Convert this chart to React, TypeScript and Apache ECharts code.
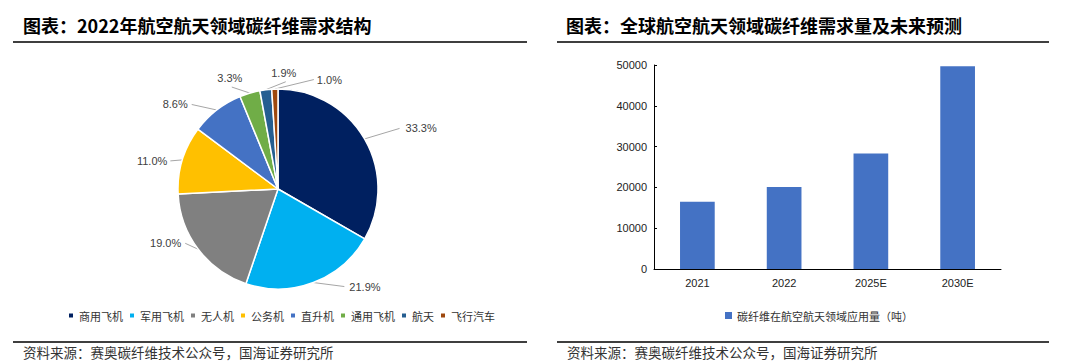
import React, { useEffect, useRef } from "react";
import * as echarts from "echarts";

const pieTitle = "图表：2022年航空航天领域碳纤维需求结构";
const barTitle = "图表：全球航空航天领域碳纤维需求量及未来预测";
const sourceText = "资料来源：赛奥碳纤维技术公众号，国海证券研究所";

const pieCategories = ["商用飞机", "军用飞机", "无人机", "公务机", "直升机", "通用飞机", "航天", "飞行汽车"];
const pieValues = [33.3, 21.9, 19.0, 11.0, 8.6, 3.3, 1.9, 1.0];
const pieColors = ["#002060", "#00B0F0", "#808080", "#FFC000", "#4472C4", "#70AD47", "#255E91", "#9E480E"];

const barCategories = ["2021", "2022", "2025E", "2030E"];
const barValues = [16500, 20100, 28300, 49700];
const barSeriesName = "碳纤维在航空航天领域应用量（吨）";

// label nudges relative to each slice's outer edge point (style only)
const labelNudges = [
  { lx: 35, ly: -10.5, tx: 41, ty: -11, align: "left" },
  { lx: 31, ly: 4, tx: 36, ty: 4, align: "left" },
  { lx: -13, ly: -6, tx: -17, ty: -6, align: "right" },
  { lx: -12, ly: 1, tx: -15, ty: 1, align: "right" },
  { lx: -25, ly: -5.5, tx: -29, ty: -5.5, align: "right" },
  { lx: -18, ly: -6, tx: -20, ty: -15.5, align: "center" },
  { lx: 20, ly: -8, tx: 18, ty: -17, align: "center" },
  { lx: 39, ly: -9.5, tx: 42, ty: -9, align: "left" },
];

const CJK = '"Noto Sans CJK SC", "Noto Sans", sans-serif';
const LAT = '"Liberation Sans", Arial, sans-serif';

export default function App() {
  const ref = useRef<HTMLDivElement>(null);

  useEffect(() => {
    if (!ref.current) return;
    const chart = echarts.init(ref.current, undefined, { renderer: "svg" });
    const ruleStyle = { stroke: "#3f3f3f", lineWidth: 1.8 };
    const srcStyle = {
      text: sourceText,
      fontFamily: CJK,
      fontSize: 13.5,
      lineHeight: 14,
      fill: "#333",
      verticalAlign: "middle",
      align: "left",
    };
    chart.setOption({
      animation: false,
      backgroundColor: "#ffffff",
      color: pieColors,
      title: [
        {
          text: pieTitle,
          left: 18,
          top: 11,
          textStyle: { fontFamily: CJK, fontSize: 18, fontWeight: "bold", color: "#000" },
        },
        {
          text: barTitle,
          left: 561,
          top: 11,
          textStyle: { fontFamily: CJK, fontSize: 18, fontWeight: "bold", color: "#000" },
        },
      ],
      graphic: [
        { type: "line", shape: { x1: 13, y1: 42, x2: 527, y2: 42 }, style: ruleStyle },
        { type: "line", shape: { x1: 13, y1: 342, x2: 527, y2: 342 }, style: ruleStyle },
        { type: "line", shape: { x1: 557, y1: 42, x2: 1049, y2: 42 }, style: ruleStyle },
        { type: "line", shape: { x1: 557, y1: 342, x2: 1049, y2: 342 }, style: ruleStyle },
        { type: "text", x: 23, y: 352, style: srcStyle },
        { type: "text", x: 567, y: 352, style: srcStyle },
      ],
      legend: [
        {
          data: pieCategories,
          left: 62,
          top: 305,
          itemWidth: 6,
          itemHeight: 6,
          itemGap: 5,
          icon: "rect",
          textStyle: { fontFamily: CJK, fontSize: 11, color: "#333" },
        },
        {
          data: [barSeriesName],
          left: 720,
          top: 305,
          itemWidth: 7,
          itemHeight: 7,
          icon: "rect",
          textStyle: { fontFamily: CJK, fontSize: 11, color: "#333" },
        },
      ],
      grid: { left: 654, top: 65, width: 347, height: 204 },
      xAxis: {
        type: "category",
        data: barCategories,
        axisLine: { lineStyle: { color: "#000", width: 1 } },
        axisTick: { inside: true, length: 4, lineStyle: { color: "#000" } },
        axisLabel: { fontFamily: LAT, fontSize: 11, color: "#222", margin: 8 },
      },
      yAxis: {
        type: "value",
        min: 0,
        max: 50000,
        interval: 10000,
        axisLine: { show: true, lineStyle: { color: "#000", width: 1 } },
        axisTick: { show: true, inside: true, length: 3, lineStyle: { color: "#000" } },
        axisLabel: {
          fontFamily: LAT,
          fontSize: 11,
          color: "#222",
          margin: 7,
          formatter: (v: number) => String(v),
        },
        splitLine: { show: false },
      },
      series: [
        {
          type: "pie",
          center: [278, 189],
          radius: 100,
          startAngle: 90,
          clockwise: true,
          avoidLabelOverlap: false,
          data: pieCategories.map((n, i) => ({ name: n, value: pieValues[i] })),
          itemStyle: { borderColor: "#fff", borderWidth: 1.5 },
          label: {
            show: true,
            position: "outside",
            formatter: (p: any) => `${p.value.toFixed(1)}%`,
            fontFamily: LAT,
            fontSize: 11,
            color: "#404040",
          },
          labelLine: { show: true, length: 10, length2: 10, lineStyle: { color: "#A6A6A6", width: 1 } },
          labelLayout: (params: any) => {
            const n = labelNudges[params.dataIndex];
            const pts = params.labelLinePoints;
            if (!n || !pts || !pts[0]) return {};
            const [ex, ey] = pts[0];
            return {
              x: ex + n.tx,
              y: ey + n.ty,
              align: n.align,
              verticalAlign: "middle",
              labelLinePoints: [
                [ex, ey],
                [ex + n.lx, ey + n.ly],
                [ex + n.lx, ey + n.ly],
              ],
            };
          },
        },
        {
          type: "bar",
          name: barSeriesName,
          data: barValues,
          barWidth: "40%",
          itemStyle: { color: "#4472C4" },
        },
      ],
    });
    return () => chart.dispose();
  }, []);

  return (
    <div
      ref={ref}
      style={{ position: "fixed", left: 0, top: 0, width: 1090, height: 361, background: "#fff" }}
    />
  );
}
